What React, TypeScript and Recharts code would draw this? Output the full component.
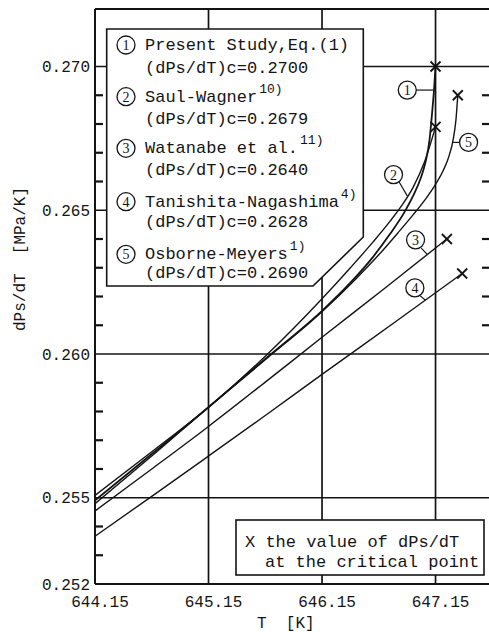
import React from 'react';
import {
  ComposedChart,
  Line,
  Scatter,
  XAxis,
  YAxis,
  ReferenceLine,
  ReferenceDot,
} from 'recharts';

// ---------- data ----------
const xTicks = [644.15, 645.15, 646.15, 647.15];
const xGrid = [645.15, 646.15, 647.15];
const yGrid = [0.255, 0.26, 0.265, 0.27];
const yTop = 0.272;
const yLabelled = [0.252, 0.255, 0.26, 0.265, 0.27];
const yMinorTicks = [
  0.253, 0.254, 0.256, 0.257, 0.258, 0.259, 0.261, 0.262, 0.263, 0.264,
  0.266, 0.267, 0.268, 0.269,
];
const rightTickValues = [0.261, 0.262, 0.263, 0.264, 0.266, 0.267, 0.268, 0.269];

// (1) Present Study, Eq.(1)
const presentStudy = [
  { T: 644.15, v: 0.25491 },
  { T: 644.65, v: 0.25652 },
  { T: 645.15, v: 0.25815 },
  { T: 645.65, v: 0.25983 },
  { T: 646.152, v: 0.26151 },
  { T: 646.4, v: 0.26248 },
  { T: 646.6, v: 0.26338 },
  { T: 646.75, v: 0.26418 },
  { T: 646.871, v: 0.2649 },
  { T: 646.95, v: 0.26548 },
  { T: 647.02, v: 0.26612 },
  { T: 647.06, v: 0.26665 },
  { T: 647.097, v: 0.26745 },
  { T: 647.12, v: 0.2684 },
  { T: 647.138, v: 0.26925 },
  { T: 647.15, v: 0.27 },
];
// (2) Saul-Wagner
const saulWagner = [
  { T: 644.15, v: 0.25508 },
  { T: 644.65, v: 0.2566 },
  { T: 645.15, v: 0.25815 },
  { T: 645.65, v: 0.25992 },
  { T: 646.15, v: 0.26192 },
  { T: 646.4, v: 0.263 },
  { T: 646.6, v: 0.2639 },
  { T: 646.75, v: 0.26462 },
  { T: 646.85, v: 0.26515 },
  { T: 646.95, v: 0.26578 },
  { T: 647.05, v: 0.26665 },
  { T: 647.15, v: 0.2679 },
];
// (3) Watanabe et al.
const watanabe = [
  { T: 644.15, v: 0.25454 },
  { T: 644.65, v: 0.256 },
  { T: 645.15, v: 0.25748 },
  { T: 645.65, v: 0.25902 },
  { T: 646.15, v: 0.26058 },
  { T: 646.7, v: 0.26228 },
  { T: 647.25, v: 0.264 },
];
// (4) Tanishita-Nagashima
const tanishita = [
  { T: 644.15, v: 0.25366 },
  { T: 644.65, v: 0.25505 },
  { T: 645.15, v: 0.25645 },
  { T: 645.65, v: 0.25786 },
  { T: 646.15, v: 0.25929 },
  { T: 646.8, v: 0.26113 },
  { T: 647.385, v: 0.2628 },
];
// (5) Osborne-Meyers
const osborneMeyers = [
  { T: 644.15, v: 0.25479 },
  { T: 644.65, v: 0.25645 },
  { T: 645.15, v: 0.25815 },
  { T: 645.65, v: 0.2598 },
  { T: 646.152, v: 0.26148 },
  { T: 646.45, v: 0.26262 },
  { T: 646.65, v: 0.26345 },
  { T: 646.82, v: 0.26422 },
  { T: 646.95, v: 0.26483 },
  { T: 647.06, v: 0.26538 },
  { T: 647.15, v: 0.2659 },
  { T: 647.22, v: 0.2664 },
  { T: 647.27, v: 0.2669 },
  { T: 647.305, v: 0.26745 },
  { T: 647.33, v: 0.26815 },
  { T: 647.346, v: 0.269 },
];

const criticalPoints = [
  { T: 647.15, v: 0.27 },
  { T: 647.15, v: 0.2679 },
  { T: 647.25, v: 0.264 },
  { T: 647.385, v: 0.2628 },
  { T: 647.346, v: 0.269 },
];

// circled curve labels and their leader lines
const curveLabels = [
  { n: '1', T: 646.901, v: 0.26918 },
  { n: '2', T: 646.78, v: 0.26624 },
  { n: '3', T: 646.974, v: 0.26397 },
  { n: '4', T: 646.968, v: 0.2623 },
  { n: '5', T: 647.441, v: 0.26736 },
];
const leaders = [
  [{ x: 646.979, y: 0.26918 }, { x: 647.128, y: 0.26918 }],
  [{ x: 646.828, y: 0.26599 }, { x: 646.901, y: 0.2655 }],
  [{ x: 647.024, y: 0.26368 }, { x: 647.082, y: 0.26345 }],
  [{ x: 647.013, y: 0.26203 }, { x: 647.062, y: 0.26187 }],
  [{ x: 647.362, y: 0.26736 }, { x: 647.304, y: 0.26736 }],
];

const legendEntries = [
  { n: '1', name: 'Present Study,Eq.(1)', sup: '', value: '(dPs/dT)c=0.2700' },
  { n: '2', name: 'Saul-Wagner', sup: '10)', value: '(dPs/dT)c=0.2679' },
  { n: '3', name: 'Watanabe et al.', sup: '11)', value: '(dPs/dT)c=0.2640' },
  { n: '4', name: 'Tanishita-Nagashima', sup: '4)', value: '(dPs/dT)c=0.2628' },
  { n: '5', name: 'Osborne-Meyers', sup: '1)', value: '(dPs/dT)c=0.2690' },
];

// ---------- style ----------
const INK = '#141414';
const MONO = "'Liberation Mono', 'DejaVu Sans Mono', monospace";
const SERIF = "'Liberation Serif', 'DejaVu Serif', serif";
const W = 489;
const H = 632;
const AXIS_W = 95;
const X_MIN = 644.15;
const X_MAX = 647.621;

const leftTickMarks = yMinorTicks.map((v) => ({ T: X_MIN, v }));
const rightTickMarks = rightTickValues.map((v) => ({ T: X_MAX, v }));

const near = (arr: number[], v: number) => arr.some((a) => Math.abs(a - v) < 1e-7);

const YTick = (props: any) => {
  const { x, y, payload } = props;
  const val = payload.value as number;
  if (!near(yLabelled, val)) return <g />;
  return (
    <text x={x - 5} y={y} dy="0.35em" textAnchor="end" fontFamily={MONO} fontSize={16} fill={INK}>
      {val.toFixed(3)}
    </text>
  );
};

const XTick = (props: any) => {
  const { x, y, payload } = props;
  return (
    <text x={x + 5} y={y + 23} textAnchor="middle" fontFamily={MONO} fontSize={16} fill={INK}>
      {Number(payload.value).toFixed(2)}
    </text>
  );
};

const XMark = (props: any) => {
  const { cx, cy } = props;
  const s = 5;
  return (
    <g stroke={INK} strokeWidth={1.8}>
      <line x1={cx - s} y1={cy - s} x2={cx + s} y2={cy + s} />
      <line x1={cx - s} y1={cy + s} x2={cx + s} y2={cy - s} />
    </g>
  );
};

const InTickLeft = (props: any) => (
  <line x1={props.cx} x2={props.cx + 8} y1={props.cy} y2={props.cy} stroke={INK} strokeWidth={2.2} />
);
const InTickRight = (props: any) => (
  <line x1={props.cx - 7} x2={props.cx} y1={props.cy} y2={props.cy} stroke={INK} strokeWidth={2.2} />
);

const CircleNum = ({ cx, cy, n }: { cx: number; cy: number; n: string }) => (
  <g>
    <circle cx={cx} cy={cy} r={9} fill="#fff" stroke={INK} strokeWidth={1.3} />
    <text x={cx} y={cy} dy="0.36em" textAnchor="middle" fontFamily={SERIF} fontSize={14} fill={INK}>
      {n}
    </text>
  </g>
);

const series = [presentStudy, saulWagner, watanabe, tanishita, osborneMeyers];
const widths = [1.8, 1.4, 1.4, 1.4, 1.4];

export default function App() {
  return (
    <div style={{ position: 'absolute', left: 0, top: 0, width: W, height: H, background: '#fff', overflow: 'hidden' }}>
      <ComposedChart width={W} height={H} margin={{ top: 9, right: 0, bottom: 0, left: 0 }}>
        <XAxis
          type="number"
          dataKey="T"
          domain={[X_MIN, X_MAX]}
          ticks={xTicks}
          allowDataOverflow
          height={48}
          tickSize={0}
          tickMargin={0}
          tick={<XTick />}
          axisLine={{ stroke: INK, strokeWidth: 2.2 }}
          tickLine={false}
          interval={0}
        />
        <YAxis
          type="number"
          domain={[0.252, yTop]}
          ticks={yLabelled}
          allowDataOverflow
          width={AXIS_W}
          tickSize={0}
          tickMargin={0}
          tick={<YTick />}
          axisLine={{ stroke: INK, strokeWidth: 2 }}
          tickLine={false}
          interval={0}
        />
        {yGrid.map((v) => (
          <ReferenceLine key={'h' + v} y={v} stroke={INK} strokeWidth={1.7} />
        ))}
        <ReferenceLine y={yTop} stroke={INK} strokeWidth={2} ifOverflow="visible" />
        {xGrid.map((t) => (
          <ReferenceLine key={'v' + t} x={t} stroke={INK} strokeWidth={1.7} />
        ))}
        <Scatter data={leftTickMarks} dataKey="v" shape={<InTickLeft />} isAnimationActive={false} />
        <Scatter data={rightTickMarks} dataKey="v" shape={<InTickRight />} isAnimationActive={false} />
        {series.map((d, i) => (
          <Line
            key={'s' + i}
            data={d}
            dataKey="v"
            type="monotone"
            stroke={INK}
            strokeWidth={widths[i]}
            dot={false}
            isAnimationActive={false}
          />
        ))}
        <Scatter data={criticalPoints} dataKey="v" shape={<XMark />} isAnimationActive={false} />
        {leaders.map((seg, i) => (
          <ReferenceLine key={'l' + i} segment={seg} stroke={INK} strokeWidth={1.2} ifOverflow="visible" />
        ))}
        {curveLabels.map((c) => (
          <ReferenceDot
            key={'c' + c.n}
            x={c.T}
            y={c.v}
            r={9}
            ifOverflow="visible"
            shape={(p: any) => <CircleNum cx={p.cx} cy={p.cy} n={c.n} />}
          />
        ))}
      </ComposedChart>
      <svg
        width={W}
        height={H}
        style={{ position: 'absolute', left: 0, top: 0, pointerEvents: 'none' }}
      >
        {/* legend box */}
        <path d="M106.7,29 H363.3 V237 L313,286 H106.7 Z" fill="#fff" stroke={INK} strokeWidth={1.6} />
        {legendEntries.map((e, i) => {
          const base = [50, 101.7, 153.3, 206.7, 259.3][i];
          const base2 = [72.7, 124, 175, 226.7, 278.3][i];
          return (
            <g key={'lg' + i}>
              <CircleNum cx={126} cy={base - 5} n={e.n} />
              <text x={145} y={base} fontFamily={MONO} fontSize={17} fill={INK}>
                {e.name}
                {e.sup && (
                  <tspan dx={2} dy={-9} fontSize={13}>
                    {e.sup}
                  </tspan>
                )}
              </text>
              <text x={145} y={base2} fontFamily={MONO} fontSize={17} fill={INK}>
                {e.value}
              </text>
            </g>
          );
        })}
        {/* critical point note */}
        <rect x={236} y={520} width={248} height={55} fill="#fff" stroke={INK} strokeWidth={1.6} />
        <text x={245} y={546.7} fontFamily={MONO} fontSize={17} fill={INK}>
          X the value of dPs/dT
        </text>
        <text x={265} y={566.7} fontFamily={MONO} fontSize={17} fill={INK}>
          at the critical point
        </text>
        {/* axis titles */}
        <text x={257} y={628} fontFamily={MONO} fontSize={16} fill={INK}>
          {'T\u00a0\u00a0[K]'}
        </text>
        <text
          x={0}
          y={0}
          transform="translate(25,259) rotate(-90)"
          textAnchor="middle"
          fontFamily={MONO}
          fontSize={16}
          fill={INK}
        >
          {'dPs/dT\u00a0\u00a0[MPa/K]'}
        </text>
      </svg>
    </div>
  );
}
